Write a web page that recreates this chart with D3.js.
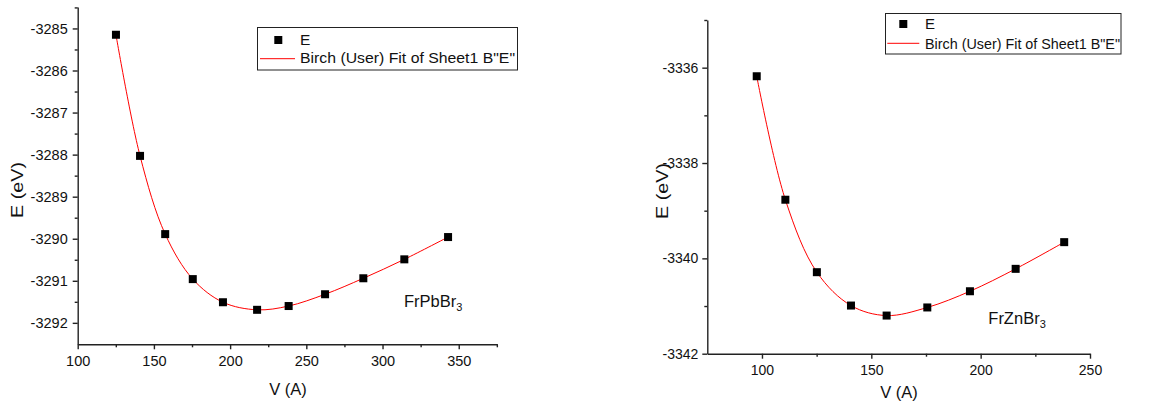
<!DOCTYPE html>
<html>

<head>
    <title>Birch fit</title>
    <script src="https://d3js.org/d3.v7.min.js"></script>
</head>
<style>
    body {
        margin: 0;
        background: #fff;
    }

    text {
        font-family: "Liberation Sans", Arial, sans-serif;
        fill: #111;
    }
</style>

<body>
    <svg width="1163" height="407" id="mainsvg"></svg>

    <script>
        // E-V points
        const volPb = [125.1, 140.9, 157.4, 175.5, 195.3, 217.7, 238.4, 262.3, 287.4, 314.3, 343.0];
        const energyPb = [-3285.15, -3288.03, -3289.89, -3290.96, -3291.51, -3291.69, -3291.60, -3291.32, -3290.94, -3290.49, -3289.96];
        const volZn = [97.6, 110.7, 125.1, 140.7, 157.0, 175.6, 195.1, 216.0, 238.2];
        const energyZn = [-3336.18, -3338.77, -3340.29, -3340.99, -3341.20, -3341.03, -3340.69, -3340.22, -3339.66];

        const xTicksPb = [100, 150, 200, 250, 300, 350];
        const xMinorPb = [125, 175, 225, 275, 325, 375];
        const yTicksPb = [-3285, -3286, -3287, -3288, -3289, -3290, -3291, -3292];
        const yMinorPb = [-3284.5, -3285.5, -3286.5, -3287.5, -3288.5, -3289.5, -3290.5, -3291.5];
        const xTicksZn = [100, 150, 200, 250];
        const xMinorZn = [125, 175, 225];
        const yTicksZn = [-3336, -3338, -3340, -3342];
        const yMinorZn = [-3335, -3337, -3339, -3341];

        const legendLabels = ['E', 'Birch (User) Fit of Sheet1 B"E"'];

        const svg = d3.select('#mainsvg');

        const drawPanel = function (p) {
            const xScale = d3.scaleLinear().domain(p.xDomain).range(p.xRange);
            const yScale = d3.scaleLinear().domain(p.yDomain).range(p.yRange);
            const g = svg.append('g');
            const data = p.vol.map((v, i) => ({ v: v, e: p.energy[i] }));

            // axes: major ticks with labels, minor ticks without
            g.append('g').attr('transform', `translate(0, ${p.yRange[0]})`)
                .call(d3.axisBottom(xScale).tickValues(p.xTicks).tickSize(5).tickSizeOuter(0)
                    .tickPadding(6).tickFormat(d => String(d)));
            g.append('g').attr('transform', `translate(0, ${p.yRange[0]})`)
                .call(d3.axisBottom(xScale).tickValues(p.xMinor).tickSize(3).tickSizeOuter(0).tickFormat(''))
                .select('.domain').remove();
            g.append('g').attr('transform', `translate(${p.xRange[0]}, 0)`)
                .call(d3.axisLeft(yScale).tickValues(p.yTicks).tickSize(5).tickSizeOuter(0)
                    .tickPadding(p.yPad).tickFormat(d => String(d)));
            g.append('g').attr('transform', `translate(${p.xRange[0]}, 0)`)
                .call(d3.axisLeft(yScale).tickValues(p.yMinor).tickSize(3).tickSizeOuter(0).tickFormat(''))
                .select('.domain').remove();

            g.selectAll('.domain, .tick line').attr('stroke', '#222').attr('stroke-width', 1.4);
            g.selectAll('.tick text').attr('font-size', p.tickFont + 'px')
                .attr('font-family', '"Liberation Sans", Arial, sans-serif').attr('fill', '#111');

            // fit curve
            const line = d3.line()
                .x(d => xScale(d.v))
                .y(d => yScale(d.e))
                .curve(d3.curveCatmullRom.alpha(0.5));
            g.append('path')
                .datum(data)
                .attr('fill', 'none')
                .attr('stroke', '#ff0000')
                .attr('stroke-width', 1)
                .attr('d', line);

            // points
            g.selectAll('.pt').data(data).join('rect')
                .attr('class', 'pt')
                .attr('x', d => xScale(d.v) - 4)
                .attr('y', d => yScale(d.e) - 4)
                .attr('width', 8)
                .attr('height', 8)
                .attr('fill', '#000');

            // axis titles
            g.append('text')
                .text('V (A)')
                .attr('x', p.xTitle[0])
                .attr('y', p.xTitle[1])
                .attr('text-anchor', 'middle')
                .attr('font-size', '16.5px');
            g.append('text')
                .text('E (eV)')
                .attr('transform', `translate(${p.yTitle[0]}, ${p.yTitle[1]}) rotate(-90)`)
                .attr('text-anchor', 'middle')
                .attr('font-size', '17px')
                .attr('textLength', 56)
                .attr('lengthAdjust', 'spacingAndGlyphs');

            // compound label
            const lab = g.append('text')
                .attr('x', p.label[0])
                .attr('y', p.label[1])
                .attr('font-size', '16.5px');
            lab.append('tspan').text(p.name);
            lab.append('tspan').text('3').attr('font-size', '11px').attr('dy', 4);

            // legend
            const L = p.legend;
            g.append('rect')
                .attr('x', L.x).attr('y', L.y).attr('width', L.w).attr('height', L.h)
                .attr('fill', '#fff').attr('stroke', '#222').attr('stroke-width', 1);
            g.append('rect')
                .attr('x', L.sq[0] - 4).attr('y', L.sq[1] - 4)
                .attr('width', 8).attr('height', 8).attr('fill', '#000');
            g.append('line')
                .attr('x1', L.ln[0]).attr('x2', L.ln[1]).attr('y1', L.ln[2]).attr('y2', L.ln[2])
                .attr('stroke', '#ff0000').attr('stroke-width', 1);
            g.append('text').text(legendLabels[0])
                .attr('x', L.tx).attr('y', L.ty[0]).attr('font-size', L.font + 'px');
            g.append('text').text(legendLabels[1])
                .attr('x', L.tx).attr('y', L.ty[1]).attr('font-size', L.font + 'px')
                .attr('textLength', L.tw).attr('lengthAdjust', 'spacingAndGlyphs');
        }

        drawPanel({
            vol: volPb, energy: energyPb, name: 'FrPbBr',
            xDomain: [100, 375.3], xRange: [77.7, 497.3],
            yDomain: [-3292.51, -3284.49], yRange: [344.3, 7],
            xTicks: xTicksPb, xMinor: xMinorPb, yTicks: yTicksPb, yMinor: yMinorPb,
            yPad: 5, tickFont: 14.5,
            xTitle: [288, 395], yTitle: [22.5, 190],
            label: [404, 307],
            legend: { x: 257.5, y: 27.5, w: 260, h: 42.5, sq: [278.3, 40], ln: [260, 295, 58.7], tx: 300, ty: [45, 63], tw: 215, font: 15.5 }
        });

        drawPanel({
            vol: volZn, energy: energyZn, name: 'FrZnBr',
            xDomain: [75, 250], xRange: [707.3, 1090],
            yDomain: [-3342, -3335], yRange: [353.7, 20],
            xTicks: xTicksZn, xMinor: xMinorZn, yTicks: yTicksZn, yMinor: yMinorZn,
            yPad: 4, tickFont: 14,
            xTitle: [899, 398], yTitle: [668, 191],
            label: [988.3, 324],
            legend: { x: 885.5, y: 13.5, w: 235.5, h: 40.5, sq: [903.3, 24], ln: [887.3, 919.3, 43.3], tx: 925, ty: [29.3, 49], tw: 195, font: 15 }
        });
    </script>
</body>

</html>
